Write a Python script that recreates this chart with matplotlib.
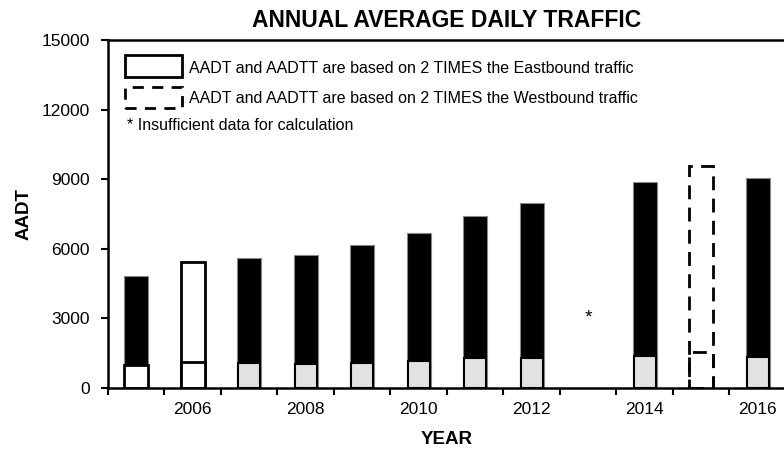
import numpy as np
import matplotlib.pyplot as plt
from matplotlib.patches import Rectangle

plt.rcParams['font.family'] = ['Liberation Sans', 'DejaVu Sans']

# ── data ─────────────────────────────────────────────
years = list(range(2005, 2017))
aadt = [4830, 5450, 5620, 5720, 6180, 6660, 7400, 7990, np.nan, 8870, 9550, 9040]
aadtt = [980, 1120, 1080, 1030, 1080, 1180, 1280, 1310, np.nan, 1400, 1540, 1350]
# '' = normal, 'E' = 2x eastbound, 'W' = 2x westbound
aadt_basis = ['', 'E', '', '', '', '', '', '', '', '', 'W', '']
aadtt_basis = ['E', 'E', '', '', '', '', '', '', '', '', 'W', '']
missing_year = 2013
missing_mark_y = 3000

fig = plt.figure(figsize=(7.84, 4.53), dpi=100)
ax = fig.add_axes([108/784, 65/453, 678/784, 348/453])

x = np.arange(len(years))
w = 0.43

for i in range(len(years)):
    if np.isnan(aadt[i]):
        continue
    b = aadt_basis[i]
    if b == 'E':
        ax.bar(x[i], aadt[i], w, color='white', edgecolor='black', linewidth=2)
    elif b == 'W':
        ax.bar(x[i], aadt[i], w, color='none', edgecolor='black', linewidth=2,
               linestyle=(0, (5, 3)))
    else:
        ax.bar(x[i], aadt[i], w, color='black', edgecolor='#888888', linewidth=0.8)

    t = aadtt_basis[i]
    if t == 'E':
        ax.bar(x[i], aadtt[i], w, color='white', edgecolor='black', linewidth=2)
    elif t == 'W':
        ax.bar(x[i], aadtt[i], w, color='none', edgecolor='black', linewidth=2,
               linestyle=(0, (5, 3)))
    else:
        ax.bar(x[i], aadtt[i], w * 0.92, color='#e2e2e2', edgecolor='black', linewidth=1.5)

ax.text(years.index(missing_year), missing_mark_y, '*', ha='center', va='center', fontsize=14)

ax.set_xlim(-0.5, len(years) - 0.5)
ax.set_ylim(0, 15000)
ax.set_yticks(np.arange(0, 15001, 3000))
ax.set_xticks(np.arange(-0.5, len(years), 1))
ax.set_xticklabels([])
ax.set_xticks(x[1::2], minor=True)
ax.set_xticklabels([str(y) for y in years[1::2]], minor=True)
ax.tick_params(axis='x', which='minor', length=0, pad=10, labelsize=12.5)
ax.tick_params(axis='x', which='major', length=5, width=1.5, direction='out')
ax.tick_params(axis='y', length=5, width=1.5, direction='out', labelsize=12.5, pad=8)

ax.spines['right'].set_visible(False)
for s in ['left', 'bottom', 'top']:
    ax.spines[s].set_linewidth(1.8)

ax.set_title('ANNUAL AVERAGE DAILY TRAFFIC', fontsize=16.5, fontweight='bold',
             y=1.057, va='center', pad=0)
ax.set_xlabel('YEAR', fontsize=13.5, fontweight='bold')
ax.set_ylabel('AADT', fontsize=13.5, fontweight='bold')
ax.xaxis.set_label_coords(0.5, -0.149)
ax.yaxis.set_label_coords(-0.124, 0.5)
ax.xaxis.label.set_va('center')
ax.yaxis.label.set_va('center')

# ── legend box drawn by hand ─────────────────────────
ax.add_patch(Rectangle((0.025, 0.894), 0.084, 0.063, transform=ax.transAxes,
                       facecolor='white', edgecolor='black', linewidth=2, clip_on=False))
ax.add_patch(Rectangle((0.025, 0.805), 0.084, 0.060, transform=ax.transAxes,
                       facecolor='white', edgecolor='black', linewidth=2,
                       linestyle=(0, (4, 3)), clip_on=False))
ax.text(0.119, 0.918, 'AADT and AADTT are based on 2 TIMES the Eastbound traffic',
        transform=ax.transAxes, va='center', fontsize=11.5)
ax.text(0.119, 0.832, 'AADT and AADTT are based on 2 TIMES the Westbound traffic',
        transform=ax.transAxes, va='center', fontsize=11.5)
ax.text(0.028, 0.755, '* Insufficient data for calculation',
        transform=ax.transAxes, va='center', fontsize=11.5)

plt.savefig('out.png', dpi=100)
